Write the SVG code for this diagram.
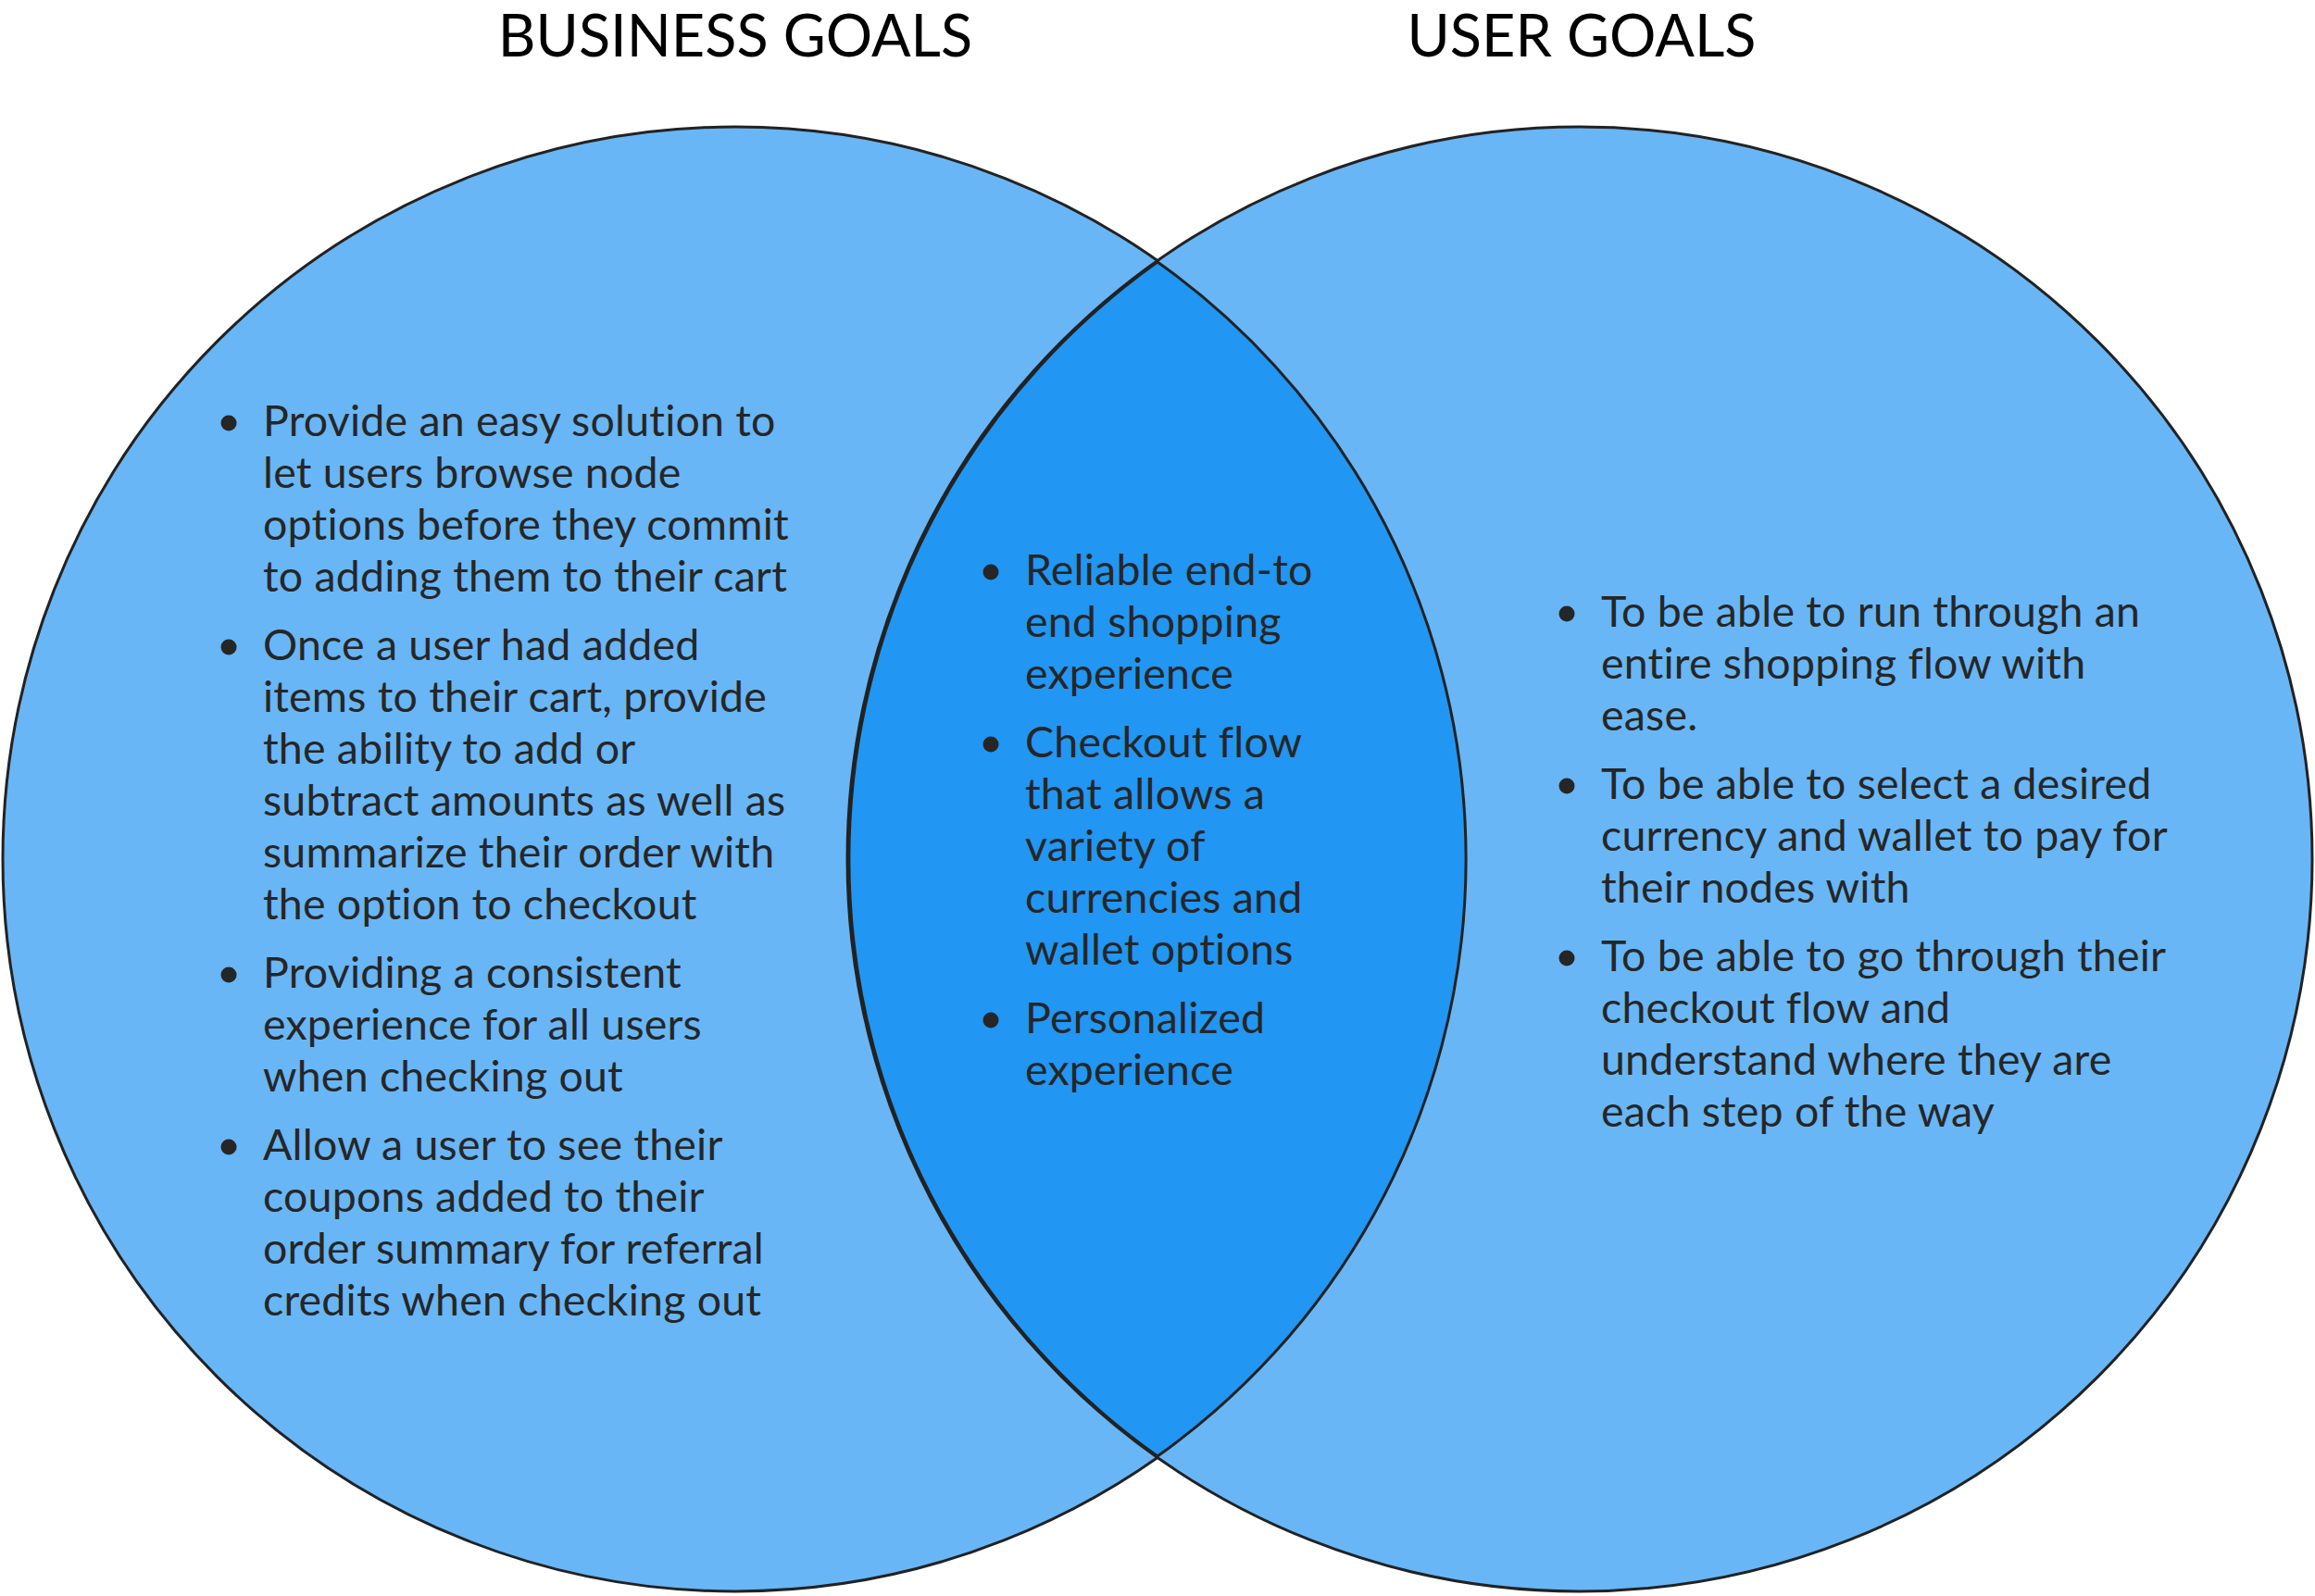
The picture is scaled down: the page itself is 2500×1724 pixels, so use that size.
<svg xmlns="http://www.w3.org/2000/svg" width="2500" height="1724" viewBox="0 0 2500 1724">
<style>
.circle{fill:#68B6F6;stroke:#222;stroke-width:3}
.lens{fill:#2196F3;stroke:#222;stroke-width:3}
.title{font-family:Lato,"Liberation Sans",sans-serif;font-size:63px;fill:#000;text-anchor:middle}
.t{font-family:Lato,"Liberation Sans",sans-serif;font-size:46.5px;letter-spacing:0.2px;fill:#262626}
.b{fill:#262626}
</style>
<rect width="2500" height="1724" fill="#fff"/>
<g id="title-business"><text class="title" x="794" y="61">BUSINESS GOALS</text></g>
<g id="title-user"><text class="title" x="1708" y="61">USER GOALS</text></g>
<g id="business-circle"><circle class="circle" cx="794" cy="928" r="791"/></g>
<g id="user-circle"><circle class="circle" cx="1706" cy="928" r="791"/></g>
<g id="overlap"><path class="lens" d="M1250 283 A791 791 0 0 1 1250 1573 A791 791 0 0 1 1250 283 Z"/></g>
<g id="business-text">
<circle class="b" cx="247" cy="457" r="8.5"/>
<circle class="b" cx="247" cy="699" r="8.5"/>
<circle class="b" cx="247" cy="1053" r="8.5"/>
<circle class="b" cx="247" cy="1239" r="8.5"/>
<text class="t">
<tspan x="284" y="471">Provide an easy solution to</tspan>
<tspan x="284" y="527">let users browse node</tspan>
<tspan x="284" y="583">options before they commit</tspan>
<tspan x="284" y="639">to adding them to their cart</tspan>
<tspan x="284" y="713">Once a user had added</tspan>
<tspan x="284" y="769">items to their cart, provide</tspan>
<tspan x="284" y="825">the ability to add or</tspan>
<tspan x="284" y="881">subtract amounts as well as</tspan>
<tspan x="284" y="937">summarize their order with</tspan>
<tspan x="284" y="993">the option to checkout</tspan>
<tspan x="284" y="1067">Providing a consistent</tspan>
<tspan x="284" y="1123">experience for all users</tspan>
<tspan x="284" y="1179">when checking out</tspan>
<tspan x="284" y="1253">Allow a user to see their</tspan>
<tspan x="284" y="1309">coupons added to their</tspan>
<tspan x="284" y="1365">order summary for referral</tspan>
<tspan x="284" y="1421">credits when checking out</tspan>
</text>
</g>
<g id="shared-text">
<circle class="b" cx="1070" cy="618" r="8.5"/>
<circle class="b" cx="1070" cy="804" r="8.5"/>
<circle class="b" cx="1070" cy="1102" r="8.5"/>
<text class="t">
<tspan x="1107" y="632">Reliable end-to</tspan>
<tspan x="1107" y="688">end shopping</tspan>
<tspan x="1107" y="744">experience</tspan>
<tspan x="1107" y="818">Checkout flow</tspan>
<tspan x="1107" y="874">that allows a</tspan>
<tspan x="1107" y="930">variety of</tspan>
<tspan x="1107" y="986">currencies and</tspan>
<tspan x="1107" y="1042">wallet options</tspan>
<tspan x="1107" y="1116">Personalized</tspan>
<tspan x="1107" y="1172">experience</tspan>
</text>
</g>
<g id="user-text">
<circle class="b" cx="1692" cy="663" r="8.5"/>
<circle class="b" cx="1692" cy="849" r="8.5"/>
<circle class="b" cx="1692" cy="1035" r="8.5"/>
<text class="t">
<tspan x="1729" y="677">To be able to run through an</tspan>
<tspan x="1729" y="733">entire shopping flow with</tspan>
<tspan x="1729" y="789">ease.</tspan>
<tspan x="1729" y="863">To be able to select a desired</tspan>
<tspan x="1729" y="919">currency and wallet to pay for</tspan>
<tspan x="1729" y="975">their nodes with</tspan>
<tspan x="1729" y="1049">To be able to go through their</tspan>
<tspan x="1729" y="1105">checkout flow and</tspan>
<tspan x="1729" y="1161">understand where they are</tspan>
<tspan x="1729" y="1217">each step of the way</tspan>
</text>
</g>
</svg>
